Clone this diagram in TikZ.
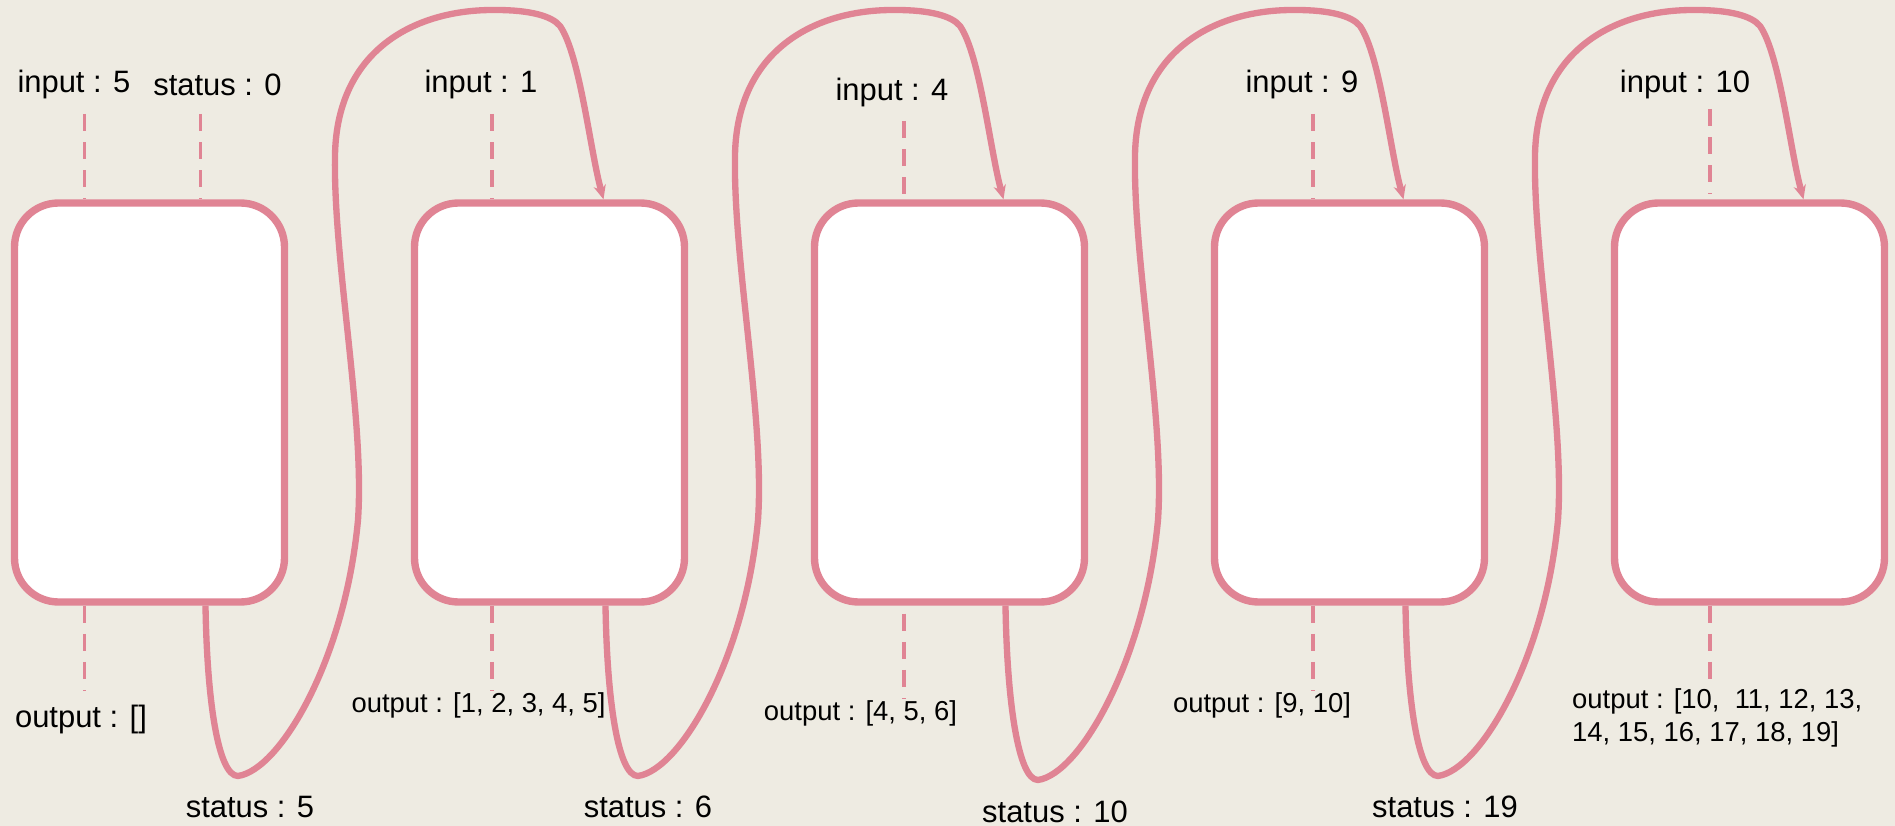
\documentclass[tikz,border=0pt]{standalone}
\usepackage{fontspec}
\setmainfont{Liberation Sans}
\usetikzlibrary{arrows.meta}

\definecolor{paper}{HTML}{EEEBE2}
\definecolor{rose}{HTML}{E08494}

\tikzset{
  cell/.style={draw=rose,fill=white,line width=2.1pt,rounded corners=4.4mm,
    minimum width=2.70cm,minimum height=3.99cm,inner sep=0pt},
  tag/.style={font=\fontsize{8.8}{10}\selectfont,inner sep=1pt},
  outtag/.style={font=\fontsize{7.8}{9.4}\selectfont,inner sep=1pt,align=left},
  wire/.style={draw=rose,line width=0.9pt,dash pattern=on 4.8pt off 3.2pt},
  carry/.style={draw=rose,line width=1.8pt,-{Stealth[length=4pt,width=3.5pt]}}
}

\begin{document}
\begin{tikzpicture}

      \fill[paper] (0,0) rectangle (18.95,-8.26);
      \useasboundingbox (0,0) rectangle (18.95,-8.26);

      % the five calls
      \begin{scope}[every node/.style=cell]
        \node (b1) at (1.495,-4.025)  {};
        \node (b2) at (5.495,-4.025)  {};
        \node (b3) at (9.495,-4.025)  {};
        \node (b4) at (13.495,-4.025) {};
        \node (b5) at (17.495,-4.025) {};
      \end{scope}

      \begin{scope}[every node/.style=tag]
        \node (in1) at (0.74,-0.85)  {input : 5};
        \node (st0) at (2.175,-0.85) {status : 0};
        \node (in2) at (4.81,-0.85)  {input : 1};
        \node (in3) at (8.92,-0.93)  {input : 4};
        \node (in4) at (13.02,-0.85) {input : 9};
        \node (in5) at (16.85,-0.85) {input : 10};

        \node (out1) at (0.81,-7.20) {output : []};

        \node (st5)  at (2.50,-8.07)  {status : 5};
        \node (st6)  at (6.48,-8.07)  {status : 6};
        \node (st10) at (10.55,-8.12) {status : 10};
        \node (st19) at (14.45,-8.07) {status : 19};
      \end{scope}

      \begin{scope}[every node/.style=outtag]
        \node (out2) at (4.786,-7.05) {output : [1, 2, 3, 4, 5]};
        \node (out3) at (8.605,-7.13) {output : [4, 5, 6]};
        \node (out4) at (12.62,-7.05) {output : [9, 10]};
        \node[anchor=west] (out5) at (15.68,-7.18)
          {output : [10,\ \ 11, 12, 13,\\14, 15, 16, 17, 18, 19]};
      \end{scope}

      % dashed feeds
      \coordinate (i1) at (0.846,-1.14);
      \coordinate (s0) at (2.006,-1.14);
      \coordinate (i2) at (4.92,-1.14);
      \coordinate (i3) at (9.04,-1.21);
      \coordinate (i4) at (13.13,-1.14);
      \coordinate (i5) at (17.10,-1.09);
      \coordinate (i5e) at (17.10,-1.94);
      \coordinate (o1) at (0.846,-6.91);
      \coordinate (o2) at (4.92,-6.91);
      \coordinate (o3) at (9.04,-6.99);
      \coordinate (o4) at (13.13,-6.91);
      \coordinate (o5) at (17.10,-6.86);

      \draw[wire] (i1) -- (i1 |- b1.north);
      \draw[wire] (s0) -- (s0 |- b1.north);
      \draw[wire] (i2) -- (i2 |- b2.north);
      \draw[wire] (i3) -- (i3 |- b3.north);
      \draw[wire] (i4) -- (i4 |- b4.north);
      \draw[wire] (i5) -- (i5e);

      \draw[wire] (o1 |- b1.south) -- (o1);
      \draw[wire] (o2 |- b2.south) -- (o2);
      \draw[wire] ([yshift=-0.8mm]o3 |- b3.south) -- (o3);
      \draw[wire] (o4 |- b4.south) -- (o4);
      \draw[wire] (o5 |- b5.south) -- (o5);

      % status handed on to the next call
      \begin{scope}[xshift=0cm]
        \draw[carry] ([xshift=5.6mm]b1.south)
          .. controls (2.07,-7.00) and (2.18,-7.76) .. (2.38,-7.76)
          .. controls (2.80,-7.70) and (3.45,-6.60) .. (3.58,-5.20)
          .. controls (3.65,-4.20) and (3.33,-2.60) .. (3.35,-1.55)
          .. controls (3.37,-0.50) and (4.15,-0.09) .. (4.96,-0.10)
          .. controls (5.30,-0.10) and (5.52,-0.16) .. (5.60,-0.26)
          .. controls (5.80,-0.55) and (5.90,-1.50) .. ([xshift=5.4mm]b2.north);
      \end{scope}
      \begin{scope}[xshift=4cm]
        \draw[carry] ([xshift=5.6mm]b2.south)
          .. controls (2.07,-7.00) and (2.18,-7.76) .. (2.38,-7.76)
          .. controls (2.80,-7.70) and (3.45,-6.60) .. (3.58,-5.20)
          .. controls (3.65,-4.20) and (3.33,-2.60) .. (3.35,-1.55)
          .. controls (3.37,-0.50) and (4.15,-0.09) .. (4.96,-0.10)
          .. controls (5.30,-0.10) and (5.52,-0.16) .. (5.60,-0.26)
          .. controls (5.80,-0.55) and (5.90,-1.50) .. ([xshift=5.4mm]b3.north);
      \end{scope}
      \begin{scope}[xshift=8cm]
        \draw[carry] ([xshift=5.6mm]b3.south)
          .. controls (2.07,-7.00) and (2.18,-7.80) .. (2.38,-7.80)
          .. controls (2.80,-7.74) and (3.45,-6.60) .. (3.58,-5.20)
          .. controls (3.65,-4.20) and (3.33,-2.60) .. (3.35,-1.55)
          .. controls (3.37,-0.50) and (4.15,-0.09) .. (4.96,-0.10)
          .. controls (5.30,-0.10) and (5.52,-0.16) .. (5.60,-0.26)
          .. controls (5.80,-0.55) and (5.90,-1.50) .. ([xshift=5.4mm]b4.north);
      \end{scope}
      \begin{scope}[xshift=12cm]
        \draw[carry] ([xshift=5.6mm]b4.south)
          .. controls (2.07,-7.00) and (2.18,-7.76) .. (2.38,-7.76)
          .. controls (2.80,-7.70) and (3.45,-6.60) .. (3.58,-5.20)
          .. controls (3.65,-4.20) and (3.33,-2.60) .. (3.35,-1.55)
          .. controls (3.37,-0.50) and (4.15,-0.09) .. (4.96,-0.10)
          .. controls (5.30,-0.10) and (5.52,-0.16) .. (5.60,-0.26)
          .. controls (5.80,-0.55) and (5.90,-1.50) .. ([xshift=5.4mm]b5.north);
      \end{scope}

\end{tikzpicture}
\end{document}
